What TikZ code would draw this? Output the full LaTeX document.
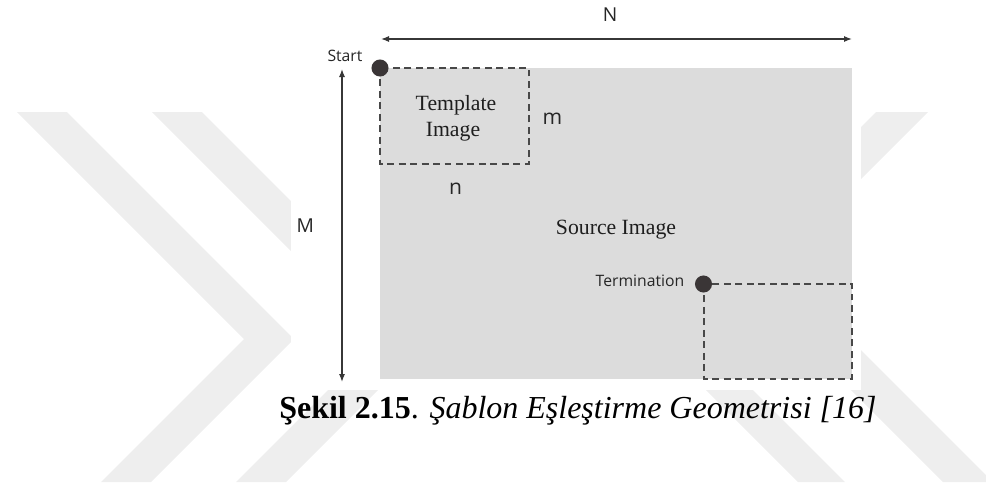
\documentclass[tikz,border=0pt]{standalone}
\usepackage{fontspec}
\setmainfont{Liberation Serif}
\newfontfamily\labelsans{Open Sans}
\usetikzlibrary{arrows.meta}

\definecolor{wmark}{RGB}{238,238,238}
\definecolor{sheet}{RGB}{220,220,220}
\definecolor{dotc}{RGB}{58,53,54}
\definecolor{dashc}{RGB}{72,72,72}
\definecolor{arrowc}{RGB}{55,55,55}
\definecolor{labelc}{RGB}{38,38,38}
\definecolor{serifc}{RGB}{30,30,30}

\tikzset{
  dimarrow/.style={draw=arrowc, line width=1.1pt,
    {Latex[length=6pt,width=4.6pt]}-{Latex[length=6pt,width=4.6pt]}},
  dashbox/.style={draw=dashc, line width=1.5pt, dash pattern=on 5.2pt off 3.4pt},
  cornerdot/.style={fill=dotc},
  dimlabel/.style={text=labelc, font=\labelsans\fontsize{14.4}{17}\selectfont, inner sep=0pt, anchor=base},
  smalllabel/.style={text=labelc, font=\labelsans\fontsize{11.8}{14}\selectfont, inner sep=0pt, anchor=base},
  sidelabel/.style={text=labelc, font=\labelsans\fontsize{15.8}{19}\selectfont, inner sep=0pt, anchor=base},
  imagetext/.style={text=serifc, font=\fontsize{16.3}{19.5}\selectfont, inner sep=0pt, anchor=base},
}

\begin{document}
\begin{tikzpicture}[x=0.75pt,y=-0.75pt]
\useasboundingbox (0,0) rectangle (986,487);

% faint chevron watermark behind the figure
\begin{scope}
  \clip (0,112) rectangle (986,482);
  \fill[wmark] (17,112) -- (67,112) -- (294,339) -- (151,482) -- (101,482) -- (244,339) -- cycle;
  \fill[wmark] (152,112) -- (202,112) -- (429,339) -- (286,482) -- (236,482) -- (379,339) -- cycle;
  \fill[wmark] (876,112) -- (928,112) -- (701.5,338.5) -- (845,482) -- (798,482) -- (652,336) -- cycle;
  \fill[wmark] (798,337) -- (848,337) -- (993,482) -- (943,482) -- cycle;
\end{scope}

% white panel carrying the figure
\fill[white] (291,0) rectangle (861,390);

% source image
\fill[sheet] (380,68) rectangle (852,379);

% template window at the start and at the termination position
\draw[dashbox] (380,68) rectangle (529,164);
\draw[dashbox] (703.5,284) rectangle (852,378.5);

\fill[cornerdot] (380,68) circle[radius=6.4pt];
\fill[cornerdot] (703.5,284) circle[radius=6.4pt];

% dimension arrows
\coordinate (hleft) at (381,39);
\coordinate (hright) at (852,39);
\coordinate (vtop) at (342,69);
\coordinate (vbottom) at (342,382);
\draw[dimarrow] (hleft) -- (hright);
\draw[dimarrow] (vtop) -- (vbottom);

% labels
\node[dimlabel] (Nlab) at (610,21.7) {N};
\node[dimlabel] (Mlab) at (305.3,232.3) {M};
\node[sidelabel] (mlab) at (552.5,124) {m};
\node[sidelabel] (nlab) at (455.7,194) {n};
\node[smalllabel] (startlab) at (345,61) {Start};
\node[smalllabel] (termlab) at (640,286.7) {Termination};

\node[imagetext] (tpl1) at (456,110) {Template};
\node[imagetext] (tpl2) at (453,136) {Image};
\node[imagetext] (srclab) at (616,234) {Source Image};

% caption
\node[inner sep=0pt, anchor=base west, font=\fontsize{24}{28}\selectfont] (caption) at (279,418)
  {\textbf{Şekil 2.15}. \textit{Şablon Eşleştirme Geometrisi [16]}};
\end{tikzpicture}
\end{document}
